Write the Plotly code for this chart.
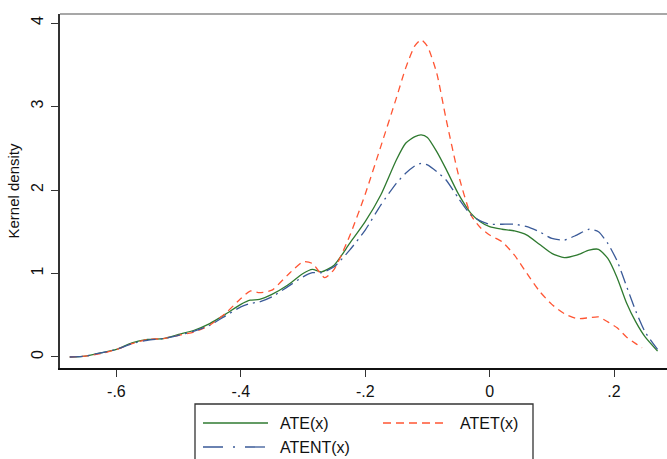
import plotly.graph_objects as go

# ---- data ----
x_ate = [-0.675, -0.65, -0.625, -0.6, -0.575, -0.55, -0.525, -0.5, -0.475, -0.45, -0.425, -0.4,
         -0.385, -0.37, -0.35, -0.325, -0.3, -0.285, -0.27, -0.25, -0.225, -0.2, -0.175, -0.15,
         -0.135, -0.12, -0.11, -0.1, -0.085, -0.07, -0.05, -0.03, -0.015, 0.0, 0.02, 0.04, 0.06,
         0.08, 0.1, 0.12, 0.14, 0.16, 0.175, 0.19, 0.205, 0.22, 0.235, 0.25, 0.27]
y_ate = [0.0, 0.01, 0.05, 0.09, 0.17, 0.21, 0.22, 0.27, 0.32, 0.40, 0.51, 0.63,
         0.68, 0.69, 0.75, 0.86, 1.00, 1.05, 1.02, 1.10, 1.36, 1.62, 1.94, 2.36,
         2.56, 2.64, 2.66, 2.63, 2.46, 2.25, 1.95, 1.72, 1.62, 1.56, 1.53, 1.51, 1.46,
         1.35, 1.24, 1.19, 1.22, 1.28, 1.29, 1.18, 0.95, 0.65, 0.42, 0.24, 0.07]

x_atet = [-0.675, -0.65, -0.625, -0.6, -0.575, -0.55, -0.525, -0.5, -0.475, -0.45, -0.425, -0.4,
          -0.385, -0.37, -0.35, -0.325, -0.3, -0.285, -0.265, -0.25, -0.225, -0.2, -0.175, -0.15,
          -0.135, -0.12, -0.11, -0.1, -0.085, -0.07, -0.05, -0.03, -0.015, 0.0, 0.02, 0.04, 0.06,
          0.08, 0.1, 0.12, 0.14, 0.16, 0.175, 0.19, 0.205, 0.22, 0.235, 0.245]
y_atet = [0.0, 0.01, 0.04, 0.09, 0.16, 0.21, 0.22, 0.26, 0.30, 0.38, 0.52, 0.70,
          0.79, 0.77, 0.80, 0.98, 1.14, 1.12, 0.95, 1.05, 1.45, 1.95, 2.52, 3.10,
          3.46, 3.73, 3.80, 3.72, 3.40, 2.85, 2.18, 1.70, 1.55, 1.46, 1.38, 1.22, 1.00,
          0.79, 0.63, 0.52, 0.46, 0.47, 0.48, 0.42, 0.35, 0.24, 0.16, 0.11]

x_atent = x_ate
y_atent = [0.0, 0.01, 0.05, 0.09, 0.16, 0.20, 0.22, 0.26, 0.31, 0.38, 0.49, 0.60,
           0.64, 0.66, 0.72, 0.84, 0.96, 1.01, 1.01, 1.08, 1.28, 1.52, 1.82, 2.08,
           2.20, 2.29, 2.32, 2.30, 2.22, 2.12, 1.90, 1.70, 1.63, 1.59, 1.59, 1.59, 1.56,
           1.50, 1.42, 1.40, 1.46, 1.53, 1.50, 1.36, 1.15, 0.85, 0.55, 0.30, 0.09]

x_tickvals = [-0.6, -0.4, -0.2, 0.0, 0.2]
x_ticktext = ["-.6", "-.4", "-.2", "0", ".2"]
y_tickvals = [0, 1, 2, 3, 4]
y_ticktext = ["0", "1", "2", "3", "4"]

names = ["ATE(x)", "ATET(x)", "ATENT(x)"]
colors = ["#2f7a30", "#ff5533", "#3a5a98"]
dashes = ["solid", "7px,5px", "13px,5px,2px,5px"]

FONT = "Liberation Sans, Arial, sans-serif"

fig = go.Figure()
for xs, ys, nm, c, d in [(x_ate, y_ate, names[0], colors[0], dashes[0]),
                         (x_atet, y_atet, names[1], colors[1], dashes[1]),
                         (x_atent, y_atent, names[2], colors[2], dashes[2])]:
    fig.add_trace(go.Scatter(x=xs, y=ys, mode="lines", name=nm,
                             line=dict(color=c, width=1.3, dash=d, shape="spline", smoothing=0.6),
                             showlegend=False))

W, H = 667, 459
ml, mr, mt, mb = 60, 0, 14, 91
pw, ph = W - ml - mr, H - mt - mb

def px(xp):
    return (xp - ml) / pw

def py(yp):
    return (H - mb - yp) / ph

shapes = []
# top border of plot region
shapes.append(dict(type="line", xref="paper", yref="paper", x0=0, x1=1, y0=1, y1=1,
                   line=dict(color="#8a8a8a", width=1.5)))
# legend box
shapes.append(dict(type="rect", xref="paper", yref="paper", x0=px(195), x1=px(533),
                   y0=py(404), y1=py(475), line=dict(color="#333333", width=1.3)))
annotations = []
legend_items = [(names[0], colors[0], "solid", 203, 268, 278, 423),
                (names[1], colors[1], "8px,5px", 383, 448, 458, 423),
                (names[2], colors[2], "20px,10px,2px,10px", 203, 268, 278, 447)]
for nm, c, d, a, b, t, yy in legend_items:
    shapes.append(dict(type="line", xref="paper", yref="paper", x0=px(a), x1=px(b),
                       y0=py(yy), y1=py(yy), line=dict(color=c, width=1.3, dash=d)))
    annotations.append(dict(text=nm, xref="paper", yref="paper", x=px(t), y=py(yy),
                            xanchor="left", yanchor="middle", showarrow=False,
                            font=dict(family=FONT, size=16, color="#111111")))

fig.update_layout(
    width=W, height=H,
    margin=dict(l=ml, r=mr, t=mt, b=mb, pad=0),
    paper_bgcolor="white", plot_bgcolor="white",
    font=dict(family=FONT, size=15, color="#111111"),
    shapes=shapes, annotations=annotations,
    xaxis=dict(range=[-0.6907, 0.2852], tickvals=x_tickvals, ticktext=x_ticktext,
               showgrid=False, zeroline=False, showline=True, linecolor="#111111", linewidth=2,
               ticks="outside", ticklen=7, tickwidth=1.2, tickcolor="#333333",
               tickfont=dict(size=16), ticklabelstandoff=1),
    yaxis=dict(range=[-0.132, 4.108], tickvals=y_tickvals, ticktext=y_ticktext,
               showgrid=False, zeroline=False, showline=True, linecolor="#333333", linewidth=1.5,
               ticks="outside", ticklen=7, tickwidth=1.2, tickcolor="#333333",
               tickangle=-90, tickfont=dict(size=16), ticklabelstandoff=2,
               title=dict(text="Kernel density", font=dict(size=15), standoff=6)),
)

fig.write_html("out.html")
